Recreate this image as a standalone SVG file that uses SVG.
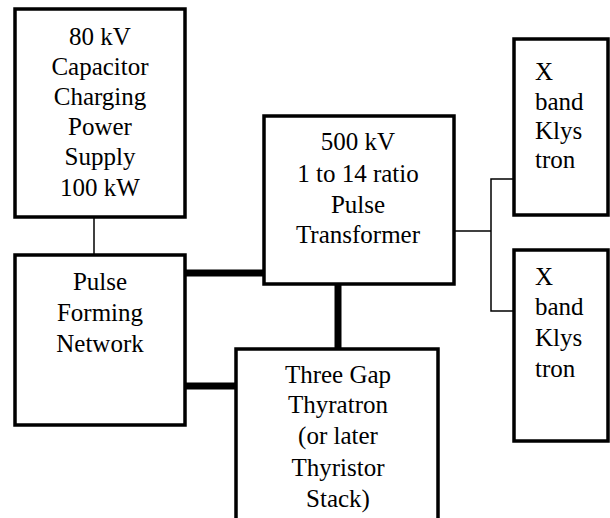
<svg xmlns="http://www.w3.org/2000/svg" width="610" height="518" viewBox="0 0 610 518">
<style>
.box{fill:#fff;stroke:#000;stroke-width:3.5}
.thin{stroke:#000;stroke-width:1.5;fill:none}
.thick{stroke:#000;stroke-width:7;fill:none}
</style>
<rect width="610" height="518" fill="#fff"/>
<g id="connectors">
<line class="thin" x1="94" y1="217" x2="94" y2="255"/>
<line class="thick" x1="185" y1="273" x2="264" y2="273"/>
<line class="thick" x1="185" y1="386" x2="236" y2="386"/>
<line class="thick" x1="338" y1="284" x2="338" y2="349"/>
<polyline class="thin" points="454,231 491,231"/>
<polyline class="thin" points="514,179 491,179 491,311 514,311"/>
</g>
<g id="power-supply" font-family="Liberation Serif" font-size="25" text-anchor="middle">
<rect class="box" x="15" y="9" width="170" height="208"/>
<text x="100" y="45" font-family="Liberation Serif">80 kV</text>
<text x="100" y="75" font-family="Liberation Serif">Capacitor</text>
<text x="100" y="105" font-family="Liberation Serif">Charging</text>
<text x="100" y="135" font-family="Liberation Serif">Power</text>
<text x="100" y="165" font-family="Liberation Serif">Supply</text>
<text x="100" y="196" font-family="Liberation Serif">100 kW</text>
</g>
<g id="pfn" font-family="Liberation Serif" font-size="25" text-anchor="middle">
<rect class="box" x="15" y="255" width="170" height="170"/>
<text x="100" y="290" font-family="Liberation Serif">Pulse</text>
<text x="100" y="321" font-family="Liberation Serif">Forming</text>
<text x="100" y="352" font-family="Liberation Serif">Network</text>
</g>
<g id="transformer" font-family="Liberation Serif" font-size="25" text-anchor="middle">
<rect class="box" x="264" y="116" width="190" height="168"/>
<text x="358" y="150" font-family="Liberation Serif">500 kV</text>
<text x="358" y="182" font-family="Liberation Serif">1 to 14 ratio</text>
<text x="358" y="213" font-family="Liberation Serif">Pulse</text>
<text x="358" y="243" font-family="Liberation Serif">Transformer</text>
</g>
<g id="thyratron" font-family="Liberation Serif" font-size="25" text-anchor="middle">
<rect class="box" x="236" y="349" width="202" height="185"/>
<text x="338" y="383" font-family="Liberation Serif">Three Gap</text>
<text x="338" y="413" font-family="Liberation Serif">Thyratron</text>
<text x="338" y="444" font-family="Liberation Serif">(or later</text>
<text x="338" y="476" font-family="Liberation Serif">Thyristor</text>
<text x="338" y="507" font-family="Liberation Serif">Stack)</text>
</g>
<g id="klystron1" font-family="Liberation Serif" font-size="25">
<rect class="box" x="514" y="39" width="94" height="176"/>
<text x="535" y="80" font-family="Liberation Serif">X</text>
<text x="535" y="110" font-family="Liberation Serif">band</text>
<text x="535" y="139" font-family="Liberation Serif">Klys</text>
<text x="535" y="168" font-family="Liberation Serif">tron</text>
</g>
<g id="klystron2" font-family="Liberation Serif" font-size="25">
<rect class="box" x="514" y="250" width="94" height="191"/>
<text x="535" y="285" font-family="Liberation Serif">X</text>
<text x="535" y="315" font-family="Liberation Serif">band</text>
<text x="535" y="346" font-family="Liberation Serif">Klys</text>
<text x="535" y="377" font-family="Liberation Serif">tron</text>
</g>
</svg>
